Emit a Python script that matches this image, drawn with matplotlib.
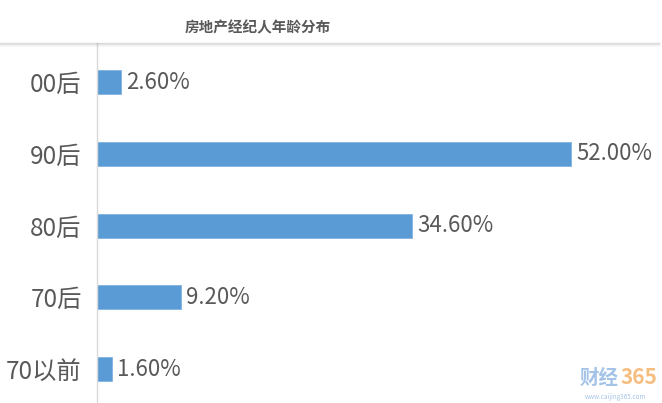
import matplotlib.pyplot as plt

plt.rcParams['font.family'] = ['Noto Sans CJK SC', 'DejaVu Sans']

title = "房地产经纪人年龄分布"
groups = ["00后", "90后", "80后", "70后", "70以前"]
shares = [2.6, 52.0, 34.6, 9.2, 1.6]
value_labels = ["2.60%", "52.00%", "34.60%", "9.20%", "1.60%"]

fig = plt.figure(figsize=(6.62, 4.03), dpi=100)
fig.patch.set_facecolor("white")

# chart panel below the title
ax = fig.add_axes([97 / 662, 0, 1 - 97 / 662, 1 - 43 / 403])
ypos = list(range(len(groups)))
ax.barh(ypos, shares, height=0.334, color="#5B9BD5", edgecolor="#7FB2E0", linewidth=0.6)
ax.set_xlim(0, 62)
ax.set_ylim(4.473, -0.544)
ax.set_yticks(ypos)
ax.set_yticklabels(groups, fontsize=17.5, color="#595959")
ax.tick_params(axis="y", length=0, pad=11)
ax.set_xticks([])
for s in ["top", "right", "bottom"]:
    ax.spines[s].set_visible(False)
ax.spines["left"].set_color("#D9D9D9")
ax.spines["left"].set_linewidth(1.0)

for y, v, lab in zip(ypos, shares, value_labels):
    ax.text(v + 0.6, y, lab, va="center", ha="left", fontsize=16, color="#595959")

# soft shadow line at the top of the panel
for i, a in enumerate([0.25, 0.15, 0.08, 0.04]):
    fig.add_artist(plt.Line2D([0, 0.995], [1 - (43 + i) / 403] * 2, color="#808080",
                              alpha=a, linewidth=1, transform=fig.transFigure))

fig.text(258 / 662, 1 - 27 / 403, title, ha="center", va="center", fontsize=10.5,
         fontweight="bold", color="#595959")

# watermark
fig.text(0.905, 1 - 378 / 403, "财经", ha="center", va="center", fontsize=14,
         fontweight="bold", color="#8DB4E2", alpha=0.8)
fig.text(0.965, 1 - 378 / 403, "365", ha="center", va="center", fontsize=15,
         fontweight="bold", color="#F5B26B", alpha=0.85)
fig.text(0.93, 1 - 397 / 403, "www.caijing365.com", ha="center", va="center", fontsize=4.5,
         color="#8DB4E2", alpha=0.8)

fig.savefig("out.png", dpi=100)
